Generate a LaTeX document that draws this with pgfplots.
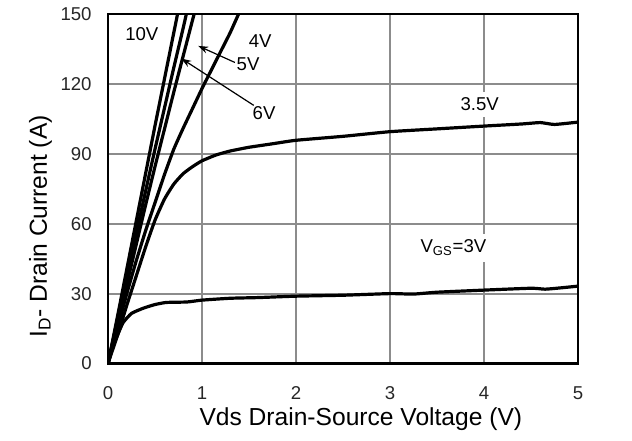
\documentclass[border=0pt]{standalone}
\usepackage{fontspec}
\setmainfont{Liberation Sans}
\usepackage{pgfplots}
\pgfplotsset{compat=1.18}
\usetikzlibrary{arrows.meta}
\pgfplotsset{curve/.style={black, line width=1.6pt, no marks, smooth, tension=0.3}}
\begin{document}
\begin{tikzpicture}
\begin{axis}[
  at={(0,0)}, anchor=origin,
  scale only axis, width=235pt, height=174.75pt,
  xmin=0, xmax=5, ymin=0, ymax=150,
  xtick={0,1,2,3,4,5}, ytick={0,30,60,90,120,150},
  /pgf/number format/assume math mode=true,
  major tick length=0pt,
  grid=major,
  major grid style={draw=black!45, line width=1pt},
  axis line style={line width=1.2pt},
  tick label style={font=\fontsize{9.3}{11}\selectfont, text=black!85},
  yticklabel style={anchor=east, inner sep=0pt, xshift=-8pt},
  xticklabel style={anchor=center, inner sep=0pt, yshift=-14.75pt},
  xlabel={Vds Drain-Source Voltage (V)},
  ylabel={I\textsubscript{D}- Drain Current (A)},
  label style={font=\fontsize{12.3}{14}\selectfont},
  xlabel style={at={(axis description cs:0.538,-0.16)}, anchor=center, inner sep=0pt},
  ylabel style={at={(axis description cs:-0.1298,0.392)}, anchor=base, inner sep=0pt},
  clip=true,
]
% VGS = 10V
\addplot[curve] coordinates {(0,0) (0.1,20) (0.2,40.5) (0.3,61) (0.4,81.5) (0.5,102) (0.6,122) (0.7,142) (0.76,154)};
% VGS = 6V
\addplot[curve] coordinates {(0,0) (0.1,18.5) (0.2,37) (0.3,55.5) (0.4,74) (0.5,92) (0.6,109.5) (0.7,127) (0.8,144) (0.85,153)};
% VGS = 5V
\addplot[curve] coordinates {(0,0) (0.1,17) (0.2,34) (0.3,51) (0.4,68) (0.5,84.5) (0.6,100.5) (0.7,116.5) (0.8,132) (0.9,147.5) (0.93,152)};
% VGS = 4V
\addplot[curve] coordinates {(0,0) (0.1,15) (0.2,30) (0.3,44) (0.4,57) (0.5,69) (0.6,81) (0.7,92) (0.8,101) (0.9,109.5) (1.0,118) (1.1,126) (1.2,134) (1.3,142) (1.4,151)};
% VGS = 3.5V
\addplot[curve] coordinates {(0,0) (0.1,12) (0.2,25) (0.3,37.5) (0.4,50) (0.5,61.5) (0.6,70.5) (0.7,77) (0.8,81.5) (0.9,84.5) (1.0,87) (1.15,89.5) (1.3,91.2) (1.5,92.8) (1.75,94.3) (2.0,95.8) (2.5,97.5) (3.0,99.5) (3.5,100.7) (4.0,101.9) (4.4,102.8) (4.6,103.4) (4.75,102.6) (5.0,103.6)};
% VGS = 3V
\addplot[curve] coordinates {(0,0) (0.05,7) (0.1,12) (0.16,17.5) (0.25,21.5) (0.38,23.8) (0.5,25.3) (0.62,26.2) (0.84,26.4) (1.0,27.2) (1.3,28) (1.6,28.3) (2.0,28.9) (2.5,29.3) (3.0,30) (3.25,29.8) (3.5,30.6) (4.0,31.5) (4.5,32.3) (4.65,31.9) (4.8,32.4) (5.0,33.2)};

\node[font=\fontsize{9.3}{11}\selectfont] at (axis cs:0.36,141.4) {10V};
\node[font=\fontsize{9.3}{11}\selectfont] at (axis cs:1.62,138.5) {4V};
\node[font=\fontsize{9.3}{11}\selectfont] at (axis cs:1.49,128.4) {5V};
\node[font=\fontsize{9.3}{11}\selectfont] at (axis cs:1.66,107.6) {6V};
\node[font=\fontsize{9.3}{11}\selectfont, fill=white, inner sep=3pt] at (axis cs:3.955,111.2) {3.5V};
\node[font=\fontsize{9.3}{11}\selectfont, fill=white, inner sep=3pt] at (axis cs:3.675,49.7) {V\textsubscript{GS}=3V};
\draw[black, line width=0.6pt, -{Stealth[length=5pt,width=3.5pt]}] (axis cs:1.35,129.2) -- (axis cs:0.96,136.3);
\draw[black, line width=0.6pt, -{Stealth[length=5pt,width=3.5pt]}] (axis cs:1.55,110.8) -- (axis cs:0.78,130.9);
\end{axis}
\pgfresetboundingbox
\path (-54pt,-38.25pt) rectangle (262pt,181.75pt);
\end{tikzpicture}
\end{document}
